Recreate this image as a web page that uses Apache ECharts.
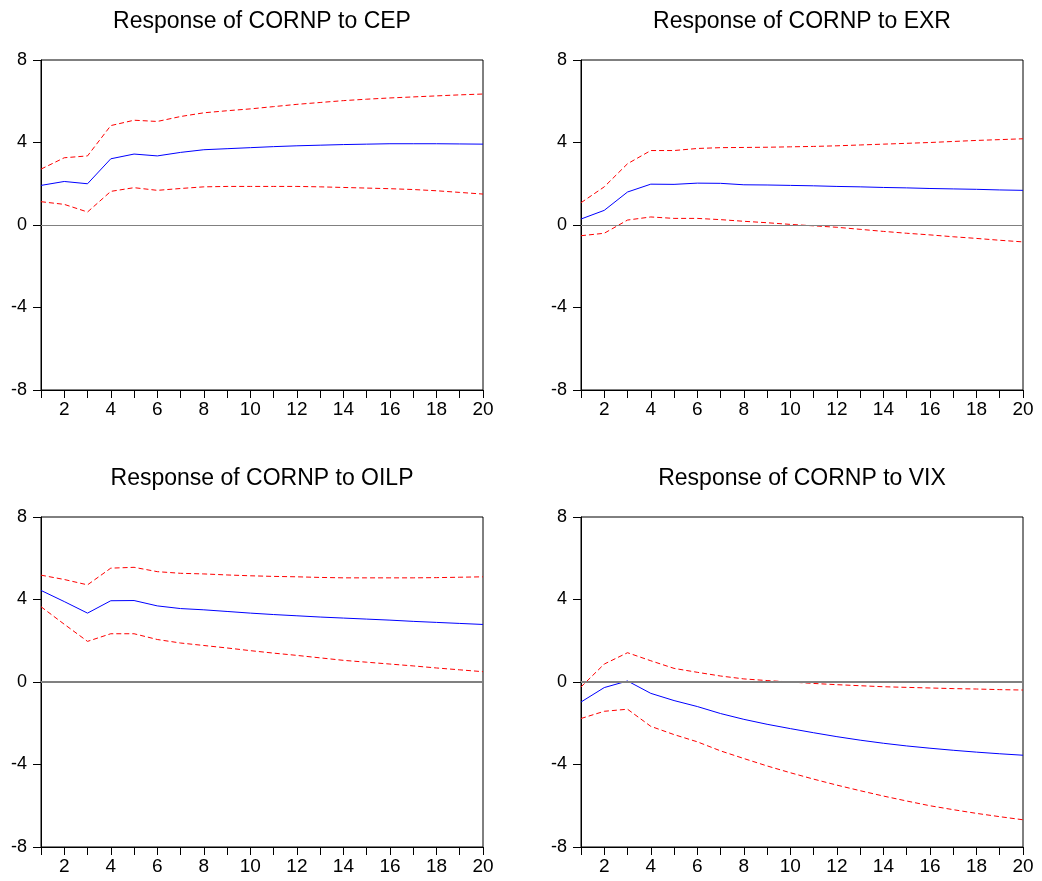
<!DOCTYPE html>
<html>
<head>
<meta charset="utf-8">
<script src="https://cdn.jsdelivr.net/npm/echarts@6/dist/echarts.min.js"></script>
<style>
html,body{margin:0;padding:0;background:#fff;}
#chart{width:1042px;height:881px;}
</style>
</head>
<body>
<div id="chart"></div>
<script>
const periods = [1,2,3,4,5,6,7,8,9,10,11,12,13,14,15,16,17,18,19,20];
const titles = ['Response of CORNP to CEP','Response of CORNP to EXR','Response of CORNP to OILP','Response of CORNP to VIX'];
const yTicks = [-8,-4,0,4,8];

const cepResp  = [1.92,2.11,2.00,3.21,3.44,3.35,3.52,3.65,3.70,3.75,3.80,3.84,3.87,3.90,3.92,3.94,3.94,3.94,3.93,3.92];
const cepUpper = [2.71,3.26,3.35,4.82,5.08,5.02,5.26,5.44,5.54,5.63,5.74,5.85,5.94,6.03,6.10,6.16,6.21,6.26,6.31,6.35];
const cepLower = [1.13,1.00,0.63,1.63,1.81,1.68,1.77,1.85,1.87,1.87,1.87,1.87,1.85,1.82,1.79,1.76,1.72,1.66,1.58,1.50];

const exrResp  = [0.29,0.71,1.60,1.98,1.97,2.03,2.02,1.95,1.94,1.92,1.90,1.87,1.85,1.82,1.80,1.77,1.75,1.73,1.70,1.68];
const exrUpper = [1.08,1.85,2.97,3.61,3.61,3.71,3.75,3.76,3.77,3.79,3.81,3.84,3.88,3.92,3.96,4.00,4.05,4.10,4.14,4.18];
const exrLower = [-0.52,-0.40,0.24,0.39,0.32,0.32,0.26,0.18,0.11,0.03,-0.04,-0.11,-0.21,-0.31,-0.40,-0.48,-0.57,-0.65,-0.74,-0.82];

const oilResp  = [4.44,3.90,3.34,3.94,3.95,3.69,3.56,3.50,3.42,3.34,3.27,3.21,3.15,3.10,3.05,3.00,2.94,2.89,2.84,2.79];
const oilUpper = [5.18,4.97,4.71,5.52,5.56,5.35,5.27,5.24,5.19,5.15,5.12,5.10,5.07,5.05,5.05,5.05,5.05,5.06,5.08,5.10];
const oilLower = [3.65,2.80,1.97,2.34,2.34,2.06,1.89,1.77,1.65,1.52,1.40,1.29,1.17,1.05,0.96,0.87,0.78,0.68,0.59,0.50];

const vixResp  = [-0.97,-0.27,0.05,-0.55,-0.90,-1.19,-1.53,-1.81,-2.05,-2.26,-2.46,-2.65,-2.82,-2.97,-3.10,-3.21,-3.31,-3.40,-3.48,-3.55];
const vixUpper = [-0.24,0.87,1.42,1.03,0.66,0.47,0.29,0.15,0.07,0.00,-0.07,-0.13,-0.18,-0.23,-0.26,-0.29,-0.32,-0.34,-0.37,-0.39];
const vixLower = [-1.77,-1.42,-1.32,-2.15,-2.55,-2.90,-3.34,-3.71,-4.07,-4.40,-4.71,-5.00,-5.27,-5.53,-5.77,-6.00,-6.19,-6.37,-6.53,-6.68];

const panels = [
  {resp: cepResp, upper: cepUpper, lower: cepLower},
  {resp: exrResp, upper: exrUpper, lower: exrLower},
  {resp: oilResp, upper: oilUpper, lower: oilLower},
  {resp: vixResp, upper: vixUpper, lower: vixLower}
];

const FONT = "'Liberation Sans', Arial, sans-serif";
const gridPos = [
  {left: 41, top: 60, width: 442, height: 330},
  {left: 581, top: 60, width: 442, height: 330},
  {left: 41, top: 517, width: 442, height: 330},
  {left: 581, top: 517, width: 442, height: 330}
];

const pairs = arr => periods.map((p, i) => [p, arr[i]]);

const option = {
  backgroundColor: '#fff',
  animation: false,
  title: gridPos.map((g, i) => ({
    text: titles[i],
    left: g.left + g.width / 2,
    top: g.top - 50,
    textAlign: 'center',
    padding: 0,
    textStyle: {fontFamily: FONT, fontSize: 23, fontWeight: 'normal', color: '#000'}
  })),
  grid: gridPos.map(g => Object.assign({show: true, borderColor: '#000', borderWidth: 1, backgroundColor: '#fff'}, g)),
  xAxis: gridPos.map((g, i) => ({
    type: 'value', gridIndex: i, min: 1, max: 20, interval: 1,
    axisLine: {onZero: false, lineStyle: {color: '#000', width: 1}},
    axisTick: {show: true, length: 8, inside: false, lineStyle: {color: '#000'}},
    axisLabel: {
      margin: 10, fontFamily: FONT, fontSize: 19, color: '#000',
      formatter: v => (v % 2 === 0 ? String(v) : '')
    },
    splitLine: {show: false}
  })),
  yAxis: gridPos.map((g, i) => ({
    type: 'value', gridIndex: i, min: yTicks[0], max: yTicks[yTicks.length - 1], interval: 4,
    axisLine: {show: true, lineStyle: {color: '#000', width: 1}},
    axisTick: {show: true, length: 8, inside: false, lineStyle: {color: '#000'}},
    axisLabel: {margin: 14, fontFamily: FONT, fontSize: 18, color: '#000'},
    splitLine: {show: false}
  })),
  series: []
};

panels.forEach((p, i) => {
  option.series.push({
    type: 'line', xAxisIndex: i, yAxisIndex: i, data: pairs(p.upper),
    showSymbol: false, symbol: 'none', z: 3,
    lineStyle: {color: '#FF0000', width: 1, type: [5, 3]}
  });
  option.series.push({
    type: 'line', xAxisIndex: i, yAxisIndex: i, data: pairs(p.lower),
    showSymbol: false, symbol: 'none', z: 3,
    lineStyle: {color: '#FF0000', width: 1, type: [5, 3]}
  });
  option.series.push({
    type: 'line', xAxisIndex: i, yAxisIndex: i, data: pairs(p.resp),
    showSymbol: false, symbol: 'none', z: 4,
    lineStyle: {color: '#0000FF', width: 1},
    markLine: {
      silent: true, symbol: ['none', 'none'], label: {show: false},
      lineStyle: {color: '#808080', width: i < 2 ? 1 : 2, type: 'solid'},
      data: [{yAxis: 0}]
    }
  });
});

const chart = echarts.init(document.getElementById('chart'), null, {renderer: 'canvas'});
chart.setOption(option);
</script>
</body>
</html>
